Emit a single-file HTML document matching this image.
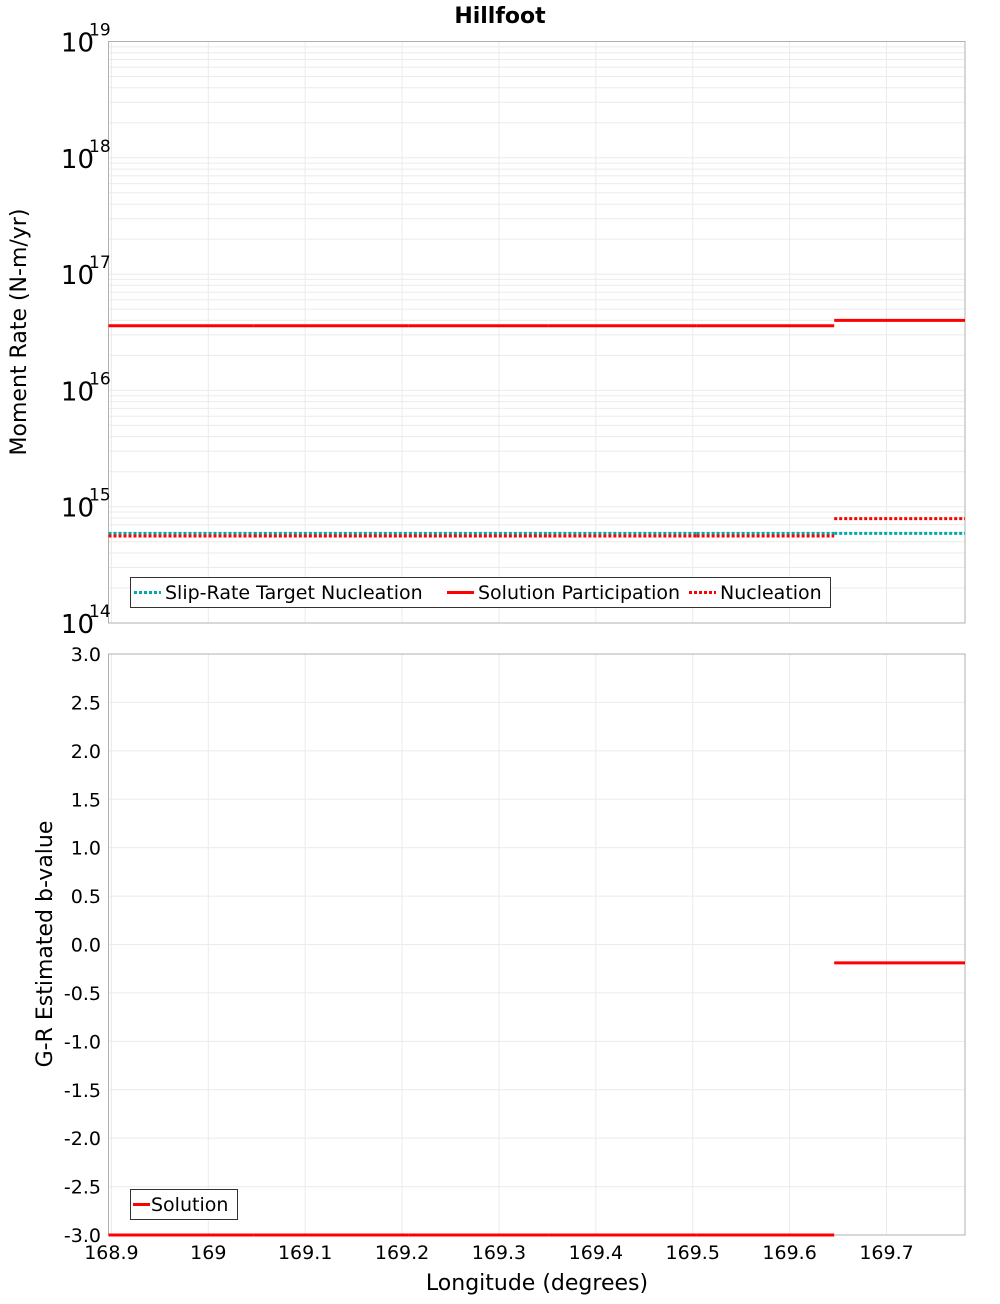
<!DOCTYPE html>
<html><head><meta charset="utf-8"><style>
body{margin:0;background:#fff;font-family:"DejaVu Sans","Liberation Sans",sans-serif}
</style></head><body>
<svg id="c" width="1000" height="1300" xmlns="http://www.w3.org/2000/svg" font-family="DejaVu Sans, Liberation Sans, sans-serif"></svg>
<script>
const segEdges=[168.897,169.047,169.207,169.351,169.504,169.646,169.781];
const participation=[3.6e16,3.6e16,3.6e16,3.6e16,3.6e16,4.0e16];
const targetNucleation=[5.9e14,5.9e14,5.9e14,5.9e14,5.9e14,5.9e14];
const nucleation=[5.6e14,5.6e14,5.6e14,5.6e14,5.6e14,7.9e14];
const bValue=[-3,-3,-3,-3,-3,-0.19];
const xTicks=[168.9,169,169.1,169.2,169.3,169.4,169.5,169.6,169.7];
const xTickLabels=["168.9","169","169.1","169.2","169.3","169.4","169.5","169.6","169.7"];
const yTicksB=[3,2.5,2,1.5,1,0.5,0,-0.5,-1,-1.5,-2,-2.5,-3];
const yTickLabelsB=["3.0","2.5","2.0","1.5","1.0","0.5","0.0","-0.5","-1.0","-1.5","-2.0","-2.5","-3.0"];
const decades=[14,15,16,17,18,19];

const svg=document.getElementById('c');const NS="http://www.w3.org/2000/svg";
function el(t,a,txt){const e=document.createElementNS(NS,t);for(const k in a)e.setAttribute(k,a[k]);if(txt!==undefined)e.textContent=txt;svg.appendChild(e);return e;}
const L=108.5,R=965,T1=41.5,B1=623,T2=654,B2=1235;
const xMin=168.897,xMax=169.781;
const X=v=>L+(v-xMin)/(xMax-xMin)*(R-L);
const Y1=v=>B1-(Math.log10(v)-14)/5*(B1-T1);
const Y2=v=>T2+(3-v)/6*(B2-T2);

let t=el('text',{x:500,y:23,'text-anchor':'middle','font-size':22,'font-weight':'bold'},'Hillfoot');


// grids top
for(let d=14;d<19;d++)for(let m=1;m<10;m++){const y=Y1(m*Math.pow(10,d));
 const g=el('line',{x1:L,x2:R,y1:y,y2:y,stroke:'#ebebeb','stroke-width':1});}
xTicks.forEach(v=>{[[T1,B1],[T2,B2]].forEach(([a,b])=>{const g=el('line',{x1:X(v),x2:X(v),y1:a,y2:b,stroke:'#ebebeb','stroke-width':1});});});
yTicksB.forEach(v=>{const g=el('line',{x1:L,x2:R,y1:Y2(v),y2:Y2(v),stroke:'#ebebeb','stroke-width':1});});

let f=el('rect',{x:L,y:T1,width:R-L,height:B1-T1,fill:'none',stroke:'#b0b0b0'});
f=el('rect',{x:L,y:T2,width:R-L,height:B2-T2,fill:'none',stroke:'#b0b0b0'});

decades.forEach(d=>{const y=Y1(Math.pow(10,d));
 const a=el('text',{x:94,y:y+10,'text-anchor':'end','font-size':26},'10');
 const b=el('text',{x:89,y:y-6,'font-size':17},String(d));});
yTicksB.forEach((v,i)=>{const a=el('text',{x:101,y:Y2(v)+7,'text-anchor':'end','font-size':19},yTickLabelsB[i]);});
xTicks.forEach((v,i)=>{const a=el('text',{x:X(v),y:1259,'text-anchor':'middle','font-size':19},xTickLabels[i]);});

let at=el('text',{x:537,y:1290,'text-anchor':'middle','font-size':22},'Longitude (degrees)');
at=el('text',{x:0,y:0,'text-anchor':'middle','font-size':22,transform:'translate(26,332) rotate(-90)'},'Moment Rate (N-m/yr)');
at=el('text',{x:0,y:0,'text-anchor':'middle','font-size':22,transform:'translate(52,944) rotate(-90)'},'G-R Estimated b-value');

function steps(vals,Yf,style,name){vals.forEach((v,i)=>{const s=el('line',Object.assign({x1:X(segEdges[i]),x2:X(segEdges[i+1]),y1:Yf(v),y2:Yf(v)},style));});}
steps(targetNucleation,Y1,{stroke:'#00aaaa','stroke-width':3,'stroke-dasharray':'3 2'},'target-nucleation-segment');
steps(nucleation,Y1,{stroke:'#ff0000','stroke-width':3,'stroke-dasharray':'3 2'},'nucleation-segment');
steps(participation,Y1,{stroke:'#ff0000','stroke-width':3},'participation-segment');
steps(bValue,Y2,{stroke:'#ff0000','stroke-width':3},'b-value-segment');

let lg=el('rect',{x:130.5,y:577.5,width:700,height:30,fill:'#fff',stroke:'#333'});
[[134,'Slip-Rate Target Nucleation','#00aaaa',true],[447,'Solution Participation','#ff0000',false],[689,'Nucleation','#ff0000',true]].forEach(([x,lab,c,d])=>{
 const l=el('line',{x1:x,x2:x+27,y1:592.5,y2:592.5,stroke:c,'stroke-width':3});if(d)l.setAttribute('stroke-dasharray','3 2');
 const tx=el('text',{x:x+31,y:599,'font-size':19},lab);});
lg=el('rect',{x:130.5,y:1189.5,width:107,height:30,fill:'#fff',stroke:'#333'});
let l2=el('line',{x1:133,x2:150,y1:1204.5,y2:1204.5,stroke:'#ff0000','stroke-width':3});
l2=el('text',{x:151,y:1211,'font-size':19},'Solution');
</script>
</body></html>
